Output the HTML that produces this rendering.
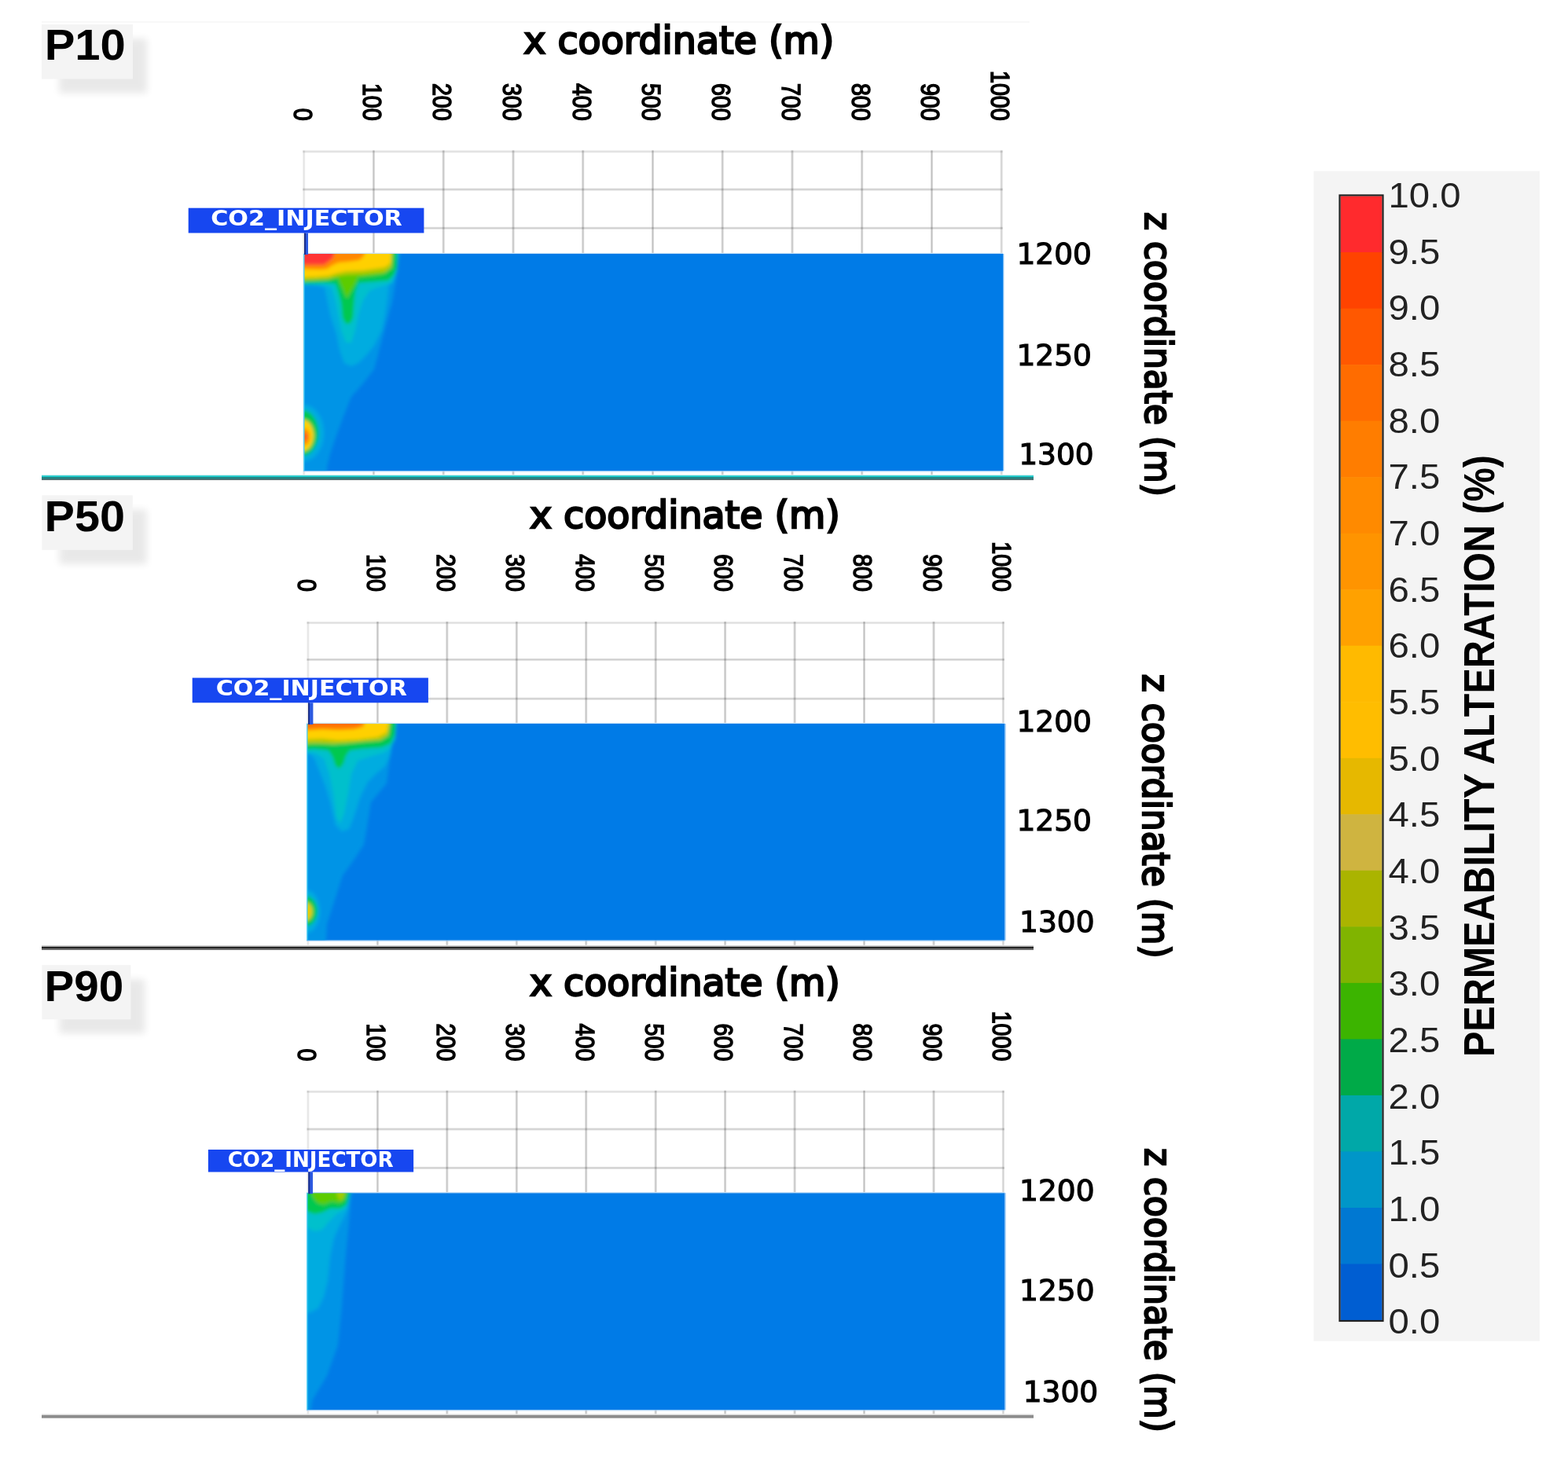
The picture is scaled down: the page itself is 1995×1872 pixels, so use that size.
<!DOCTYPE html>
<html><head><meta charset="utf-8"><title>Permeability alteration</title>
<style>
html,body{margin:0;padding:0;background:#fff;}
body{width:1995px;height:1872px;overflow:hidden;position:relative;}
svg{position:absolute;left:0;top:0;}
.lbl{font-family:"Liberation Sans",Arial,sans-serif;font-weight:bold;}
</style></head><body>
<svg width="1995" height="1872" viewBox="0 0 1995 1872">
<defs>
<filter id="blur2" x="-10%" y="-10%" width="120%" height="120%"><feGaussianBlur stdDeviation="2.2"/></filter>
<filter id="sh" x="-30%" y="-30%" width="160%" height="160%"><feGaussianBlur stdDeviation="5"/></filter>

<clipPath id="cp0"><rect x="386" y="323" width="890" height="276.3"/></clipPath>
<clipPath id="cp1"><rect x="390" y="921" width="888.3" height="275.7"/></clipPath>
<clipPath id="cp2"><rect x="390" y="1518.2" width="888.3" height="276.1"/></clipPath>
</defs>
<rect x="53" y="27.5" width="1257" height="1" fill="#f2f2f2"/>
<rect x="75" y="49" width="112" height="69.5" fill="#000" opacity="0.085" filter="url(#sh)"/>
<rect x="53" y="31" width="116" height="69.5" fill="#f4f4f4"/>
<text x="56.7" y="76.4" class="lbl" font-size="55.5" fill="#000" textLength="103.2" lengthAdjust="spacingAndGlyphs">P10</text>
<text x="666.3" y="67.6" font-family="DejaVu Sans,sans-serif" font-size="48.3" fill="#000" stroke="#000" stroke-width="2.5" textLength="395" lengthAdjust="spacingAndGlyphs">x coordinate (m)</text>
<rect x="385.2" y="191.4" width="890.5" height="3" fill="#000" fill-opacity="0.09"/>
<rect x="385.2" y="192.4" width="890.5" height="1" fill="#000" fill-opacity="0.04"/>
<rect x="385.2" y="239.6" width="890.5" height="3" fill="#000" fill-opacity="0.13"/>
<rect x="385.2" y="240.6" width="890.5" height="1" fill="#000" fill-opacity="0.08"/>
<rect x="385.2" y="288.8" width="890.5" height="3" fill="#000" fill-opacity="0.13"/>
<rect x="385.2" y="289.8" width="890.5" height="1" fill="#000" fill-opacity="0.08"/>
<rect x="385.2" y="191.4" width="3" height="413.9" fill="#000" fill-opacity="0.07"/>
<rect x="386.2" y="191.4" width="1" height="413.9" fill="#000" fill-opacity="0.04"/>
<rect x="473.9" y="191.4" width="3" height="413.9" fill="#000" fill-opacity="0.15"/>
<rect x="474.9" y="191.4" width="1" height="413.9" fill="#000" fill-opacity="0.1"/>
<rect x="562.7" y="191.4" width="3" height="413.9" fill="#000" fill-opacity="0.15"/>
<rect x="563.7" y="191.4" width="1" height="413.9" fill="#000" fill-opacity="0.1"/>
<rect x="651.5" y="191.4" width="3" height="413.9" fill="#000" fill-opacity="0.15"/>
<rect x="652.5" y="191.4" width="1" height="413.9" fill="#000" fill-opacity="0.1"/>
<rect x="740.2" y="191.4" width="3" height="413.9" fill="#000" fill-opacity="0.15"/>
<rect x="741.2" y="191.4" width="1" height="413.9" fill="#000" fill-opacity="0.1"/>
<rect x="829" y="191.4" width="3" height="413.9" fill="#000" fill-opacity="0.15"/>
<rect x="830" y="191.4" width="1" height="413.9" fill="#000" fill-opacity="0.1"/>
<rect x="917.7" y="191.4" width="3" height="413.9" fill="#000" fill-opacity="0.15"/>
<rect x="918.7" y="191.4" width="1" height="413.9" fill="#000" fill-opacity="0.1"/>
<rect x="1006.5" y="191.4" width="3" height="413.9" fill="#000" fill-opacity="0.15"/>
<rect x="1007.5" y="191.4" width="1" height="413.9" fill="#000" fill-opacity="0.1"/>
<rect x="1095.2" y="191.4" width="3" height="413.9" fill="#000" fill-opacity="0.15"/>
<rect x="1096.2" y="191.4" width="1" height="413.9" fill="#000" fill-opacity="0.1"/>
<rect x="1184" y="191.4" width="3" height="413.9" fill="#000" fill-opacity="0.15"/>
<rect x="1185" y="191.4" width="1" height="413.9" fill="#000" fill-opacity="0.1"/>
<rect x="1272.7" y="191.4" width="3" height="413.9" fill="#000" fill-opacity="0.12"/>
<rect x="1273.7" y="191.4" width="1" height="413.9" fill="#000" fill-opacity="0.07"/>
<text transform="translate(373.5,153.6) rotate(90)" text-anchor="end" font-family="Liberation Sans,Arial,sans-serif" font-size="33" fill="#000" stroke="#000" stroke-width="1.6" textLength="15.9" lengthAdjust="spacingAndGlyphs">0</text>
<text transform="translate(462.2,153.6) rotate(90)" text-anchor="end" font-family="Liberation Sans,Arial,sans-serif" font-size="33" fill="#000" stroke="#000" stroke-width="1.6" textLength="47.7" lengthAdjust="spacingAndGlyphs">100</text>
<text transform="translate(551,153.6) rotate(90)" text-anchor="end" font-family="Liberation Sans,Arial,sans-serif" font-size="33" fill="#000" stroke="#000" stroke-width="1.6" textLength="47.7" lengthAdjust="spacingAndGlyphs">200</text>
<text transform="translate(639.8,153.6) rotate(90)" text-anchor="end" font-family="Liberation Sans,Arial,sans-serif" font-size="33" fill="#000" stroke="#000" stroke-width="1.6" textLength="47.7" lengthAdjust="spacingAndGlyphs">300</text>
<text transform="translate(728.5,153.6) rotate(90)" text-anchor="end" font-family="Liberation Sans,Arial,sans-serif" font-size="33" fill="#000" stroke="#000" stroke-width="1.6" textLength="47.7" lengthAdjust="spacingAndGlyphs">400</text>
<text transform="translate(817.2,153.6) rotate(90)" text-anchor="end" font-family="Liberation Sans,Arial,sans-serif" font-size="33" fill="#000" stroke="#000" stroke-width="1.6" textLength="47.7" lengthAdjust="spacingAndGlyphs">500</text>
<text transform="translate(906,153.6) rotate(90)" text-anchor="end" font-family="Liberation Sans,Arial,sans-serif" font-size="33" fill="#000" stroke="#000" stroke-width="1.6" textLength="47.7" lengthAdjust="spacingAndGlyphs">600</text>
<text transform="translate(994.8,153.6) rotate(90)" text-anchor="end" font-family="Liberation Sans,Arial,sans-serif" font-size="33" fill="#000" stroke="#000" stroke-width="1.6" textLength="47.7" lengthAdjust="spacingAndGlyphs">700</text>
<text transform="translate(1083.5,153.6) rotate(90)" text-anchor="end" font-family="Liberation Sans,Arial,sans-serif" font-size="33" fill="#000" stroke="#000" stroke-width="1.6" textLength="47.7" lengthAdjust="spacingAndGlyphs">800</text>
<text transform="translate(1172.2,153.6) rotate(90)" text-anchor="end" font-family="Liberation Sans,Arial,sans-serif" font-size="33" fill="#000" stroke="#000" stroke-width="1.6" textLength="47.7" lengthAdjust="spacingAndGlyphs">900</text>
<text transform="translate(1261,153.6) rotate(90)" text-anchor="end" font-family="Liberation Sans,Arial,sans-serif" font-size="33" fill="#000" stroke="#000" stroke-width="1.6" textLength="63.6" lengthAdjust="spacingAndGlyphs">1000</text>
<rect x="386" y="323" width="890" height="276.3" fill="#007be7"/>
<g clip-path="url(#cp0)"><g filter="url(#blur2)"><polygon points="380,318 509,318 505,350 499,385 492,410 484,440 476,470 462,488 447,505 437,530 427,557 420,578 416,595 416,605 380,605" fill="#0094e6"/><polygon points="380,318 508,318 502,345 495,360 493,380 490,400 486,420 476,440 466,452 456,462 447,466 438,462 432,445 428,425 420,400 416,380 413,366 400,362 380,362" fill="#00ace0"/><polygon points="380,318 507,318 505,345 499,360 480,366 470,370 462,382 456,400 452,420 447,436 440,436 434,420 430,400 426,380 422,366 414,363 380,362" fill="#00c0cc"/><polygon points="380,318 505,318 505,340 501,350 494,357 470,359 456,360 452,372 450.5,385 449,405 445,412 440,412 436,405 434,385 430,370 427,361 414,360 380,361" fill="#00c850"/><polygon points="380,318 500,318 498,341 488,349 465,352 456,353 448,368 441,380 436,368 430,354 414,356 380,357" fill="#5ccc00"/><polygon points="380,318 499,318 498,340 490,346 462,349 440,350 427,352 418,355 400,356 380,357" fill="#b4c800"/><polygon points="380,318 498,318 497,335 490,340 462,344 440,345 427,348 418,351 400,352.5 380,353" fill="#ffd000"/><polygon points="380,318 466,318 462,327 457,331 443,333 431,334 423,337.6 416,342 407,343 380,342" fill="#ff8800"/><polygon points="380,318 426,318 424,328 418,333 412,337 380,337" fill="#ff3636"/><ellipse cx="386" cy="551" rx="26" ry="36" fill="#00ace0"/><ellipse cx="385" cy="551" rx="20" ry="29" fill="#00c850"/><ellipse cx="385" cy="554" rx="14" ry="20" fill="#ffd000"/><ellipse cx="387" cy="556" rx="7" ry="11" fill="#ff8c00"/><ellipse cx="388" cy="556" rx="3.5" ry="5" fill="#ff5a20"/></g></g>
<rect x="386" y="323" width="1.5" height="276.3" fill="#5ad0f5"/>
<rect x="386" y="321.8" width="890" height="1.2" fill="#c4e0f7"/>
<rect x="1276" y="323" width="1.3" height="276.3" fill="#78b8f3"/>
<rect x="386" y="599.3" width="890" height="1" fill="#9ccbf5"/>
<text x="1293.5" y="335.7" font-family="DejaVu Sans,sans-serif" font-size="38" fill="#000" stroke="#000" stroke-width="1.2" textLength="95.5" lengthAdjust="spacingAndGlyphs">1200</text>
<text x="1293.5" y="464.5" font-family="DejaVu Sans,sans-serif" font-size="38" fill="#000" stroke="#000" stroke-width="1.2" textLength="95.5" lengthAdjust="spacingAndGlyphs">1250</text>
<text x="1296.2" y="591" font-family="DejaVu Sans,sans-serif" font-size="38" fill="#000" stroke="#000" stroke-width="1.2" textLength="95.5" lengthAdjust="spacingAndGlyphs">1300</text>
<text transform="translate(1456.5,270) rotate(90)" font-family="DejaVu Sans,sans-serif" font-size="48.3" fill="#000" stroke="#000" stroke-width="2.4" textLength="361.8" lengthAdjust="spacingAndGlyphs">z coordinate (m)</text>
<rect x="387" y="296.5" width="5" height="27.5" fill="#2d5ae0"/>
<rect x="387" y="296.5" width="2" height="27.5" fill="#1c2f8a"/>
<rect x="239.7" y="264.7" width="299.7" height="31.8" fill="#1747f0"/>
<text x="268.2" y="287.2" font-family="DejaVu Sans,sans-serif" font-weight="bold" font-size="27" fill="#fff" textLength="243.6" lengthAdjust="spacingAndGlyphs">CO2_INJECTOR</text>
<rect x="53" y="604" width="1262" height="1.2" fill="#cfeff0"/>
<rect x="53" y="605.2" width="1262" height="2" fill="#14c8c8"/>
<rect x="53" y="607.2" width="1262" height="2.5" fill="#0a7474"/>
<rect x="53" y="609.7" width="1262" height="1.3" fill="#4a6468"/>
<rect x="75.3" y="648.3" width="111.5" height="69.6" fill="#000" opacity="0.085" filter="url(#sh)"/>
<rect x="53.3" y="630.3" width="115.5" height="69.6" fill="#f4f4f4"/>
<text x="56.6" y="676.2" class="lbl" font-size="55.5" fill="#000" textLength="102.4" lengthAdjust="spacingAndGlyphs">P50</text>
<text x="673.9" y="671.9" font-family="DejaVu Sans,sans-serif" font-size="48.3" fill="#000" stroke="#000" stroke-width="2.5" textLength="395" lengthAdjust="spacingAndGlyphs">x coordinate (m)</text>
<rect x="390.4" y="791.1" width="887.5" height="3" fill="#000" fill-opacity="0.09"/>
<rect x="390.4" y="792.1" width="887.5" height="1" fill="#000" fill-opacity="0.04"/>
<rect x="390.4" y="837.9" width="887.5" height="3" fill="#000" fill-opacity="0.13"/>
<rect x="390.4" y="838.9" width="887.5" height="1" fill="#000" fill-opacity="0.08"/>
<rect x="390.4" y="887.7" width="887.5" height="3" fill="#000" fill-opacity="0.13"/>
<rect x="390.4" y="888.7" width="887.5" height="1" fill="#000" fill-opacity="0.08"/>
<rect x="390.4" y="791.1" width="3" height="411.6" fill="#000" fill-opacity="0.07"/>
<rect x="391.4" y="791.1" width="1" height="411.6" fill="#000" fill-opacity="0.04"/>
<rect x="478.9" y="791.1" width="3" height="411.6" fill="#000" fill-opacity="0.15"/>
<rect x="479.9" y="791.1" width="1" height="411.6" fill="#000" fill-opacity="0.1"/>
<rect x="567.3" y="791.1" width="3" height="411.6" fill="#000" fill-opacity="0.15"/>
<rect x="568.3" y="791.1" width="1" height="411.6" fill="#000" fill-opacity="0.1"/>
<rect x="655.8" y="791.1" width="3" height="411.6" fill="#000" fill-opacity="0.15"/>
<rect x="656.8" y="791.1" width="1" height="411.6" fill="#000" fill-opacity="0.1"/>
<rect x="744.2" y="791.1" width="3" height="411.6" fill="#000" fill-opacity="0.15"/>
<rect x="745.2" y="791.1" width="1" height="411.6" fill="#000" fill-opacity="0.1"/>
<rect x="832.7" y="791.1" width="3" height="411.6" fill="#000" fill-opacity="0.15"/>
<rect x="833.7" y="791.1" width="1" height="411.6" fill="#000" fill-opacity="0.1"/>
<rect x="921.1" y="791.1" width="3" height="411.6" fill="#000" fill-opacity="0.15"/>
<rect x="922.1" y="791.1" width="1" height="411.6" fill="#000" fill-opacity="0.1"/>
<rect x="1009.6" y="791.1" width="3" height="411.6" fill="#000" fill-opacity="0.15"/>
<rect x="1010.6" y="791.1" width="1" height="411.6" fill="#000" fill-opacity="0.1"/>
<rect x="1098" y="791.1" width="3" height="411.6" fill="#000" fill-opacity="0.15"/>
<rect x="1099" y="791.1" width="1" height="411.6" fill="#000" fill-opacity="0.1"/>
<rect x="1186.5" y="791.1" width="3" height="411.6" fill="#000" fill-opacity="0.15"/>
<rect x="1187.5" y="791.1" width="1" height="411.6" fill="#000" fill-opacity="0.1"/>
<rect x="1274.9" y="791.1" width="3" height="411.6" fill="#000" fill-opacity="0.12"/>
<rect x="1275.9" y="791.1" width="1" height="411.6" fill="#000" fill-opacity="0.07"/>
<text transform="translate(378.7,752.9) rotate(90)" text-anchor="end" font-family="Liberation Sans,Arial,sans-serif" font-size="33" fill="#000" stroke="#000" stroke-width="1.6" textLength="15.9" lengthAdjust="spacingAndGlyphs">0</text>
<text transform="translate(467.2,752.9) rotate(90)" text-anchor="end" font-family="Liberation Sans,Arial,sans-serif" font-size="33" fill="#000" stroke="#000" stroke-width="1.6" textLength="47.7" lengthAdjust="spacingAndGlyphs">100</text>
<text transform="translate(555.6,752.9) rotate(90)" text-anchor="end" font-family="Liberation Sans,Arial,sans-serif" font-size="33" fill="#000" stroke="#000" stroke-width="1.6" textLength="47.7" lengthAdjust="spacingAndGlyphs">200</text>
<text transform="translate(644,752.9) rotate(90)" text-anchor="end" font-family="Liberation Sans,Arial,sans-serif" font-size="33" fill="#000" stroke="#000" stroke-width="1.6" textLength="47.7" lengthAdjust="spacingAndGlyphs">300</text>
<text transform="translate(732.5,752.9) rotate(90)" text-anchor="end" font-family="Liberation Sans,Arial,sans-serif" font-size="33" fill="#000" stroke="#000" stroke-width="1.6" textLength="47.7" lengthAdjust="spacingAndGlyphs">400</text>
<text transform="translate(821,752.9) rotate(90)" text-anchor="end" font-family="Liberation Sans,Arial,sans-serif" font-size="33" fill="#000" stroke="#000" stroke-width="1.6" textLength="47.7" lengthAdjust="spacingAndGlyphs">500</text>
<text transform="translate(909.4,752.9) rotate(90)" text-anchor="end" font-family="Liberation Sans,Arial,sans-serif" font-size="33" fill="#000" stroke="#000" stroke-width="1.6" textLength="47.7" lengthAdjust="spacingAndGlyphs">600</text>
<text transform="translate(997.9,752.9) rotate(90)" text-anchor="end" font-family="Liberation Sans,Arial,sans-serif" font-size="33" fill="#000" stroke="#000" stroke-width="1.6" textLength="47.7" lengthAdjust="spacingAndGlyphs">700</text>
<text transform="translate(1086.3,752.9) rotate(90)" text-anchor="end" font-family="Liberation Sans,Arial,sans-serif" font-size="33" fill="#000" stroke="#000" stroke-width="1.6" textLength="47.7" lengthAdjust="spacingAndGlyphs">800</text>
<text transform="translate(1174.8,752.9) rotate(90)" text-anchor="end" font-family="Liberation Sans,Arial,sans-serif" font-size="33" fill="#000" stroke="#000" stroke-width="1.6" textLength="47.7" lengthAdjust="spacingAndGlyphs">900</text>
<text transform="translate(1263.2,752.9) rotate(90)" text-anchor="end" font-family="Liberation Sans,Arial,sans-serif" font-size="33" fill="#000" stroke="#000" stroke-width="1.6" textLength="63.6" lengthAdjust="spacingAndGlyphs">1000</text>
<rect x="390" y="921" width="888.3" height="275.7" fill="#007be7"/>
<g clip-path="url(#cp1)"><g filter="url(#blur2)"><polygon points="384,916 505,916 503,921 500,940 497,959 492,997 472,1021 467,1052 463,1075 447,1099 436,1114 428.5,1137.5 416,1176 414.5,1200 384,1200" fill="#0094e6"/><polygon points="384,916 503,916 500,940 497,960 490,975 478,985 468,995 458,1015 450,1040 444,1055 435,1058 427,1050 420,1020 414,1000 408,985 400,965 392,958 384,958" fill="#00ace0"/><polygon points="384,916 505,916 503,940 497,952 488,958 470,963 455,968 447,985 443,1010 438,1035 433,1048 428,1040 424,1010 419,985 412,965 400,958 384,958" fill="#00c0cc"/><polygon points="384,916 503,916 502,935 497,946 486,951 460,953 445,955 440,962 437,972 432,978 427,975 423,963 418,955 400,953 384,954" fill="#00c850"/><polygon points="384,916 497,916 494,936 484,942 460,944 440,946 425,947 400,946 384,947" fill="#b4c800"/><polygon points="384,916 495,916 492,932 480,938 455,941 430,942 410,940 384,941" fill="#ffd000"/><polygon points="384,916 465,916 462,925 450,928 430,929 410,928 384,930" fill="#ff8000"/><polygon points="384,916 460,916 455,923 384,924" fill="#ff6a00"/><ellipse cx="390" cy="1160" rx="17" ry="27" fill="#00ace0"/><ellipse cx="389.5" cy="1159.5" rx="14" ry="19" fill="#00c850"/><ellipse cx="389" cy="1160" rx="8.5" ry="11.5" fill="#e6cc00"/></g></g>
<rect x="390" y="921" width="1.5" height="275.7" fill="#5ad0f5"/>
<rect x="390" y="919.8" width="888.3" height="1.2" fill="#c4e0f7"/>
<rect x="1278.3" y="921" width="1.3" height="275.7" fill="#78b8f3"/>
<rect x="390" y="1196.7" width="888.3" height="1" fill="#9ccbf5"/>
<text x="1293.5" y="931.4" font-family="DejaVu Sans,sans-serif" font-size="38" fill="#000" stroke="#000" stroke-width="1.2" textLength="95.5" lengthAdjust="spacingAndGlyphs">1200</text>
<text x="1293.5" y="1057.1" font-family="DejaVu Sans,sans-serif" font-size="38" fill="#000" stroke="#000" stroke-width="1.2" textLength="95.5" lengthAdjust="spacingAndGlyphs">1250</text>
<text x="1297.1" y="1186.4" font-family="DejaVu Sans,sans-serif" font-size="38" fill="#000" stroke="#000" stroke-width="1.2" textLength="95.5" lengthAdjust="spacingAndGlyphs">1300</text>
<text transform="translate(1454.3,857.8) rotate(90)" font-family="DejaVu Sans,sans-serif" font-size="48.3" fill="#000" stroke="#000" stroke-width="2.4" textLength="361.8" lengthAdjust="spacingAndGlyphs">z coordinate (m)</text>
<rect x="392" y="894.3" width="6.4" height="27.7" fill="#2d5ae0"/>
<rect x="392" y="894.3" width="2" height="27.7" fill="#1c2f8a"/>
<rect x="244.7" y="862.6" width="300.2" height="31.7" fill="#1747f0"/>
<text x="274.8" y="884.6" font-family="DejaVu Sans,sans-serif" font-weight="bold" font-size="27" fill="#fff" textLength="243" lengthAdjust="spacingAndGlyphs">CO2_INJECTOR</text>
<rect x="53" y="1203.5" width="1262" height="1.5" fill="#a0a0a0"/>
<rect x="53" y="1205" width="1262" height="2.5" fill="#222"/>
<rect x="53" y="1207.5" width="1262" height="1.5" fill="#666"/>
<rect x="75.3" y="1246.1" width="109.1" height="69.2" fill="#000" opacity="0.085" filter="url(#sh)"/>
<rect x="53.3" y="1228.1" width="113.1" height="69.2" fill="#f4f4f4"/>
<text x="56.6" y="1273.6" class="lbl" font-size="55.5" fill="#000" textLength="100.7" lengthAdjust="spacingAndGlyphs">P90</text>
<text x="673.9" y="1266.9" font-family="DejaVu Sans,sans-serif" font-size="48.3" fill="#000" stroke="#000" stroke-width="2.5" textLength="395" lengthAdjust="spacingAndGlyphs">x coordinate (m)</text>
<rect x="390.4" y="1387.8" width="887.5" height="3" fill="#000" fill-opacity="0.09"/>
<rect x="390.4" y="1388.8" width="887.5" height="1" fill="#000" fill-opacity="0.04"/>
<rect x="390.4" y="1435.5" width="887.5" height="3" fill="#000" fill-opacity="0.13"/>
<rect x="390.4" y="1436.5" width="887.5" height="1" fill="#000" fill-opacity="0.08"/>
<rect x="390.4" y="1484.8" width="887.5" height="3" fill="#000" fill-opacity="0.13"/>
<rect x="390.4" y="1485.8" width="887.5" height="1" fill="#000" fill-opacity="0.08"/>
<rect x="390.4" y="1387.8" width="3" height="412.5" fill="#000" fill-opacity="0.07"/>
<rect x="391.4" y="1387.8" width="1" height="412.5" fill="#000" fill-opacity="0.04"/>
<rect x="478.9" y="1387.8" width="3" height="412.5" fill="#000" fill-opacity="0.15"/>
<rect x="479.9" y="1387.8" width="1" height="412.5" fill="#000" fill-opacity="0.1"/>
<rect x="567.3" y="1387.8" width="3" height="412.5" fill="#000" fill-opacity="0.15"/>
<rect x="568.3" y="1387.8" width="1" height="412.5" fill="#000" fill-opacity="0.1"/>
<rect x="655.8" y="1387.8" width="3" height="412.5" fill="#000" fill-opacity="0.15"/>
<rect x="656.8" y="1387.8" width="1" height="412.5" fill="#000" fill-opacity="0.1"/>
<rect x="744.2" y="1387.8" width="3" height="412.5" fill="#000" fill-opacity="0.15"/>
<rect x="745.2" y="1387.8" width="1" height="412.5" fill="#000" fill-opacity="0.1"/>
<rect x="832.7" y="1387.8" width="3" height="412.5" fill="#000" fill-opacity="0.15"/>
<rect x="833.7" y="1387.8" width="1" height="412.5" fill="#000" fill-opacity="0.1"/>
<rect x="921.1" y="1387.8" width="3" height="412.5" fill="#000" fill-opacity="0.15"/>
<rect x="922.1" y="1387.8" width="1" height="412.5" fill="#000" fill-opacity="0.1"/>
<rect x="1009.6" y="1387.8" width="3" height="412.5" fill="#000" fill-opacity="0.15"/>
<rect x="1010.6" y="1387.8" width="1" height="412.5" fill="#000" fill-opacity="0.1"/>
<rect x="1098" y="1387.8" width="3" height="412.5" fill="#000" fill-opacity="0.15"/>
<rect x="1099" y="1387.8" width="1" height="412.5" fill="#000" fill-opacity="0.1"/>
<rect x="1186.5" y="1387.8" width="3" height="412.5" fill="#000" fill-opacity="0.15"/>
<rect x="1187.5" y="1387.8" width="1" height="412.5" fill="#000" fill-opacity="0.1"/>
<rect x="1274.9" y="1387.8" width="3" height="412.5" fill="#000" fill-opacity="0.12"/>
<rect x="1275.9" y="1387.8" width="1" height="412.5" fill="#000" fill-opacity="0.07"/>
<text transform="translate(378.7,1350.3) rotate(90)" text-anchor="end" font-family="Liberation Sans,Arial,sans-serif" font-size="33" fill="#000" stroke="#000" stroke-width="1.6" textLength="15.9" lengthAdjust="spacingAndGlyphs">0</text>
<text transform="translate(467.2,1350.3) rotate(90)" text-anchor="end" font-family="Liberation Sans,Arial,sans-serif" font-size="33" fill="#000" stroke="#000" stroke-width="1.6" textLength="47.7" lengthAdjust="spacingAndGlyphs">100</text>
<text transform="translate(555.6,1350.3) rotate(90)" text-anchor="end" font-family="Liberation Sans,Arial,sans-serif" font-size="33" fill="#000" stroke="#000" stroke-width="1.6" textLength="47.7" lengthAdjust="spacingAndGlyphs">200</text>
<text transform="translate(644,1350.3) rotate(90)" text-anchor="end" font-family="Liberation Sans,Arial,sans-serif" font-size="33" fill="#000" stroke="#000" stroke-width="1.6" textLength="47.7" lengthAdjust="spacingAndGlyphs">300</text>
<text transform="translate(732.5,1350.3) rotate(90)" text-anchor="end" font-family="Liberation Sans,Arial,sans-serif" font-size="33" fill="#000" stroke="#000" stroke-width="1.6" textLength="47.7" lengthAdjust="spacingAndGlyphs">400</text>
<text transform="translate(821,1350.3) rotate(90)" text-anchor="end" font-family="Liberation Sans,Arial,sans-serif" font-size="33" fill="#000" stroke="#000" stroke-width="1.6" textLength="47.7" lengthAdjust="spacingAndGlyphs">500</text>
<text transform="translate(909.4,1350.3) rotate(90)" text-anchor="end" font-family="Liberation Sans,Arial,sans-serif" font-size="33" fill="#000" stroke="#000" stroke-width="1.6" textLength="47.7" lengthAdjust="spacingAndGlyphs">600</text>
<text transform="translate(997.9,1350.3) rotate(90)" text-anchor="end" font-family="Liberation Sans,Arial,sans-serif" font-size="33" fill="#000" stroke="#000" stroke-width="1.6" textLength="47.7" lengthAdjust="spacingAndGlyphs">700</text>
<text transform="translate(1086.3,1350.3) rotate(90)" text-anchor="end" font-family="Liberation Sans,Arial,sans-serif" font-size="33" fill="#000" stroke="#000" stroke-width="1.6" textLength="47.7" lengthAdjust="spacingAndGlyphs">800</text>
<text transform="translate(1174.8,1350.3) rotate(90)" text-anchor="end" font-family="Liberation Sans,Arial,sans-serif" font-size="33" fill="#000" stroke="#000" stroke-width="1.6" textLength="47.7" lengthAdjust="spacingAndGlyphs">900</text>
<text transform="translate(1263.2,1350.3) rotate(90)" text-anchor="end" font-family="Liberation Sans,Arial,sans-serif" font-size="33" fill="#000" stroke="#000" stroke-width="1.6" textLength="63.6" lengthAdjust="spacingAndGlyphs">1000</text>
<rect x="390" y="1518.2" width="888.3" height="276.1" fill="#007be7"/>
<g clip-path="url(#cp2)"><g filter="url(#blur2)"><polygon points="384,1513 456,1513 447,1519 444,1557 439.4,1603 434.8,1665.5 430,1712 416,1751 397.4,1782 394.3,1800 384,1800" fill="#0094e6"/><polygon points="384,1513 447,1513 442,1540 432,1560 425,1575 420,1600 417,1630 412,1650 405,1665 395,1670 384,1672" fill="#00ace0"/><polygon points="384,1513 446,1513 440,1538 428,1545 418,1555 410,1565 400,1567 392,1563 384,1560" fill="#00c0cc"/><polygon points="384,1513 446,1513 441,1533 433,1538 420,1538 410,1543 400,1545 392,1542 384,1540" fill="#00c850"/><polygon points="396,1513 441,1513 438,1527 432,1531 422,1529 412,1533 404,1531 398,1524" fill="#5ccc00"/><polygon points="428,1513 440,1513 437,1525 432,1528 429,1522" fill="#a0cc00"/></g></g>
<rect x="390" y="1518.2" width="1.5" height="276.1" fill="#5ad0f5"/>
<rect x="390" y="1517" width="888.3" height="1.2" fill="#c4e0f7"/>
<rect x="1278.3" y="1518.2" width="1.3" height="276.1" fill="#78b8f3"/>
<rect x="390" y="1794.3" width="888.3" height="1" fill="#9ccbf5"/>
<text x="1297.1" y="1527.7" font-family="DejaVu Sans,sans-serif" font-size="38" fill="#000" stroke="#000" stroke-width="1.2" textLength="95.5" lengthAdjust="spacingAndGlyphs">1200</text>
<text x="1297.1" y="1655.3" font-family="DejaVu Sans,sans-serif" font-size="38" fill="#000" stroke="#000" stroke-width="1.2" textLength="95.5" lengthAdjust="spacingAndGlyphs">1250</text>
<text x="1301.7" y="1783.7" font-family="DejaVu Sans,sans-serif" font-size="38" fill="#000" stroke="#000" stroke-width="1.2" textLength="95.5" lengthAdjust="spacingAndGlyphs">1300</text>
<text transform="translate(1456.5,1461) rotate(90)" font-family="DejaVu Sans,sans-serif" font-size="48.3" fill="#000" stroke="#000" stroke-width="2.4" textLength="361.8" lengthAdjust="spacingAndGlyphs">z coordinate (m)</text>
<rect x="392.3" y="1491.5" width="5.7" height="27.7" fill="#2d5ae0"/>
<rect x="392.3" y="1491.5" width="2" height="27.7" fill="#1c2f8a"/>
<rect x="264.9" y="1463" width="261.2" height="28.5" fill="#1747f0"/>
<text x="289.7" y="1484.5" font-family="DejaVu Sans,sans-serif" font-weight="bold" font-size="27" fill="#fff" textLength="211" lengthAdjust="spacingAndGlyphs">CO2_INJECTOR</text>
<rect x="53" y="1799.2" width="1262" height="1.2" fill="#ececec"/>
<rect x="53" y="1800.7" width="1262" height="4" fill="#8c8c8c"/>
<rect x="1671.5" y="217.7" width="287.4" height="1489" fill="#f4f4f4"/>
<rect x="1705.5" y="249.5" width="53" height="72.1" fill="#ff2a2d"/>
<rect x="1705.5" y="321" width="53" height="72.1" fill="#ff4300"/>
<rect x="1705.5" y="392.6" width="53" height="72.1" fill="#ff5800"/>
<rect x="1705.5" y="464.1" width="53" height="72.1" fill="#ff6c00"/>
<rect x="1705.5" y="535.6" width="53" height="72.1" fill="#ff7d00"/>
<rect x="1705.5" y="607.1" width="53" height="72.1" fill="#ff8a00"/>
<rect x="1705.5" y="678.7" width="53" height="72.1" fill="#ff9400"/>
<rect x="1705.5" y="750.2" width="53" height="72.1" fill="#ffa100"/>
<rect x="1705.5" y="821.7" width="53" height="72.1" fill="#ffba00"/>
<rect x="1705.5" y="893.2" width="53" height="72.1" fill="#ffbd00"/>
<rect x="1705.5" y="964.8" width="53" height="72.1" fill="#e6b800"/>
<rect x="1705.5" y="1036.3" width="53" height="72.1" fill="#cfb440"/>
<rect x="1705.5" y="1107.8" width="53" height="72.1" fill="#aab400"/>
<rect x="1705.5" y="1179.3" width="53" height="72.1" fill="#80b400"/>
<rect x="1705.5" y="1250.9" width="53" height="72.1" fill="#3cb400"/>
<rect x="1705.5" y="1322.4" width="53" height="72.1" fill="#00aa48"/>
<rect x="1705.5" y="1393.9" width="53" height="72.1" fill="#00a8a8"/>
<rect x="1705.5" y="1465.4" width="53" height="72.1" fill="#0096c8"/>
<rect x="1705.5" y="1537" width="53" height="72.1" fill="#0078d2"/>
<rect x="1705.5" y="1608.5" width="53" height="72.1" fill="#005ed2"/>
<rect x="1704.5" y="248.5" width="55" height="1432.5" fill="none" stroke="#222" stroke-width="2.2"/>
<text x="1766.5" y="263.8" font-family="Liberation Sans,Arial,sans-serif" font-size="44" fill="#222" textLength="92" lengthAdjust="spacingAndGlyphs">10.0</text>
<text x="1766.5" y="335.5" font-family="Liberation Sans,Arial,sans-serif" font-size="44" fill="#222" textLength="65.7" lengthAdjust="spacingAndGlyphs">9.5</text>
<text x="1766.5" y="407.2" font-family="Liberation Sans,Arial,sans-serif" font-size="44" fill="#222" textLength="65.7" lengthAdjust="spacingAndGlyphs">9.0</text>
<text x="1766.5" y="478.8" font-family="Liberation Sans,Arial,sans-serif" font-size="44" fill="#222" textLength="65.7" lengthAdjust="spacingAndGlyphs">8.5</text>
<text x="1766.5" y="550.5" font-family="Liberation Sans,Arial,sans-serif" font-size="44" fill="#222" textLength="65.7" lengthAdjust="spacingAndGlyphs">8.0</text>
<text x="1766.5" y="622.2" font-family="Liberation Sans,Arial,sans-serif" font-size="44" fill="#222" textLength="65.7" lengthAdjust="spacingAndGlyphs">7.5</text>
<text x="1766.5" y="693.8" font-family="Liberation Sans,Arial,sans-serif" font-size="44" fill="#222" textLength="65.7" lengthAdjust="spacingAndGlyphs">7.0</text>
<text x="1766.5" y="765.5" font-family="Liberation Sans,Arial,sans-serif" font-size="44" fill="#222" textLength="65.7" lengthAdjust="spacingAndGlyphs">6.5</text>
<text x="1766.5" y="837.2" font-family="Liberation Sans,Arial,sans-serif" font-size="44" fill="#222" textLength="65.7" lengthAdjust="spacingAndGlyphs">6.0</text>
<text x="1766.5" y="908.9" font-family="Liberation Sans,Arial,sans-serif" font-size="44" fill="#222" textLength="65.7" lengthAdjust="spacingAndGlyphs">5.5</text>
<text x="1766.5" y="980.5" font-family="Liberation Sans,Arial,sans-serif" font-size="44" fill="#222" textLength="65.7" lengthAdjust="spacingAndGlyphs">5.0</text>
<text x="1766.5" y="1052.2" font-family="Liberation Sans,Arial,sans-serif" font-size="44" fill="#222" textLength="65.7" lengthAdjust="spacingAndGlyphs">4.5</text>
<text x="1766.5" y="1123.9" font-family="Liberation Sans,Arial,sans-serif" font-size="44" fill="#222" textLength="65.7" lengthAdjust="spacingAndGlyphs">4.0</text>
<text x="1766.5" y="1195.6" font-family="Liberation Sans,Arial,sans-serif" font-size="44" fill="#222" textLength="65.7" lengthAdjust="spacingAndGlyphs">3.5</text>
<text x="1766.5" y="1267.2" font-family="Liberation Sans,Arial,sans-serif" font-size="44" fill="#222" textLength="65.7" lengthAdjust="spacingAndGlyphs">3.0</text>
<text x="1766.5" y="1338.9" font-family="Liberation Sans,Arial,sans-serif" font-size="44" fill="#222" textLength="65.7" lengthAdjust="spacingAndGlyphs">2.5</text>
<text x="1766.5" y="1410.6" font-family="Liberation Sans,Arial,sans-serif" font-size="44" fill="#222" textLength="65.7" lengthAdjust="spacingAndGlyphs">2.0</text>
<text x="1766.5" y="1482.3" font-family="Liberation Sans,Arial,sans-serif" font-size="44" fill="#222" textLength="65.7" lengthAdjust="spacingAndGlyphs">1.5</text>
<text x="1766.5" y="1553.9" font-family="Liberation Sans,Arial,sans-serif" font-size="44" fill="#222" textLength="65.7" lengthAdjust="spacingAndGlyphs">1.0</text>
<text x="1766.5" y="1625.6" font-family="Liberation Sans,Arial,sans-serif" font-size="44" fill="#222" textLength="65.7" lengthAdjust="spacingAndGlyphs">0.5</text>
<text x="1766.5" y="1697.3" font-family="Liberation Sans,Arial,sans-serif" font-size="44" fill="#222" textLength="65.7" lengthAdjust="spacingAndGlyphs">0.0</text>
<text transform="translate(1900.5,1345) rotate(-90)" class="lbl" font-size="55" fill="#000" textLength="766" lengthAdjust="spacingAndGlyphs">PERMEABILITY ALTERATION (%)</text>
</svg></body></html>
